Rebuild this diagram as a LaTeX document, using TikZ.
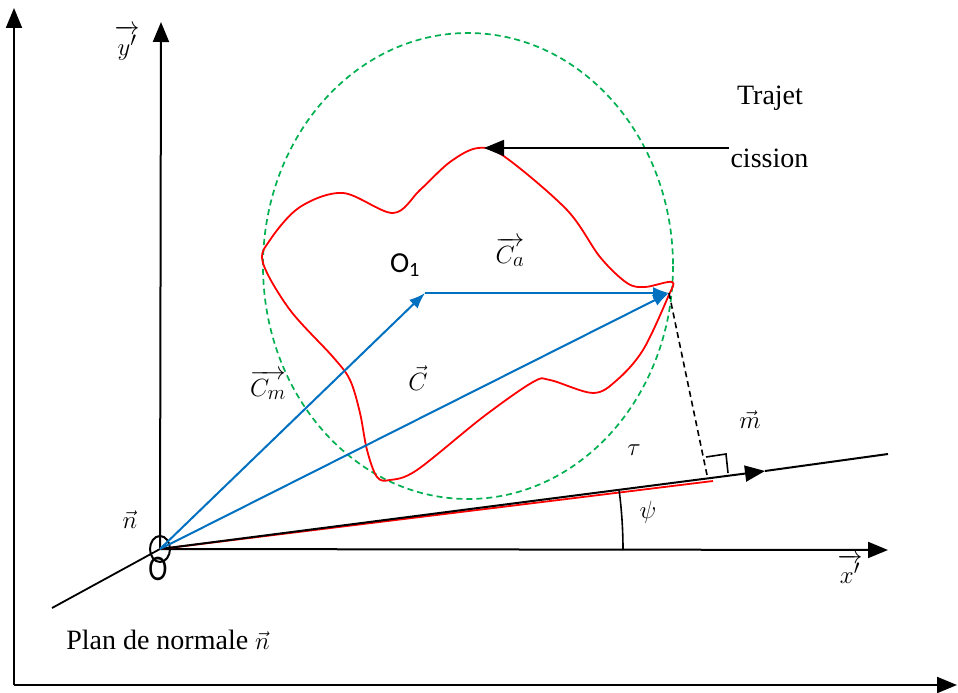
\documentclass[tikz,border=0pt]{standalone}
\usepackage{amsmath}
\usepackage{fontspec}
\setmainfont{Liberation Serif}
\setsansfont{Carlito}
\usetikzlibrary{arrows.meta}
\definecolor{vecblue}{RGB}{0,112,192}
\definecolor{envgreen}{RGB}{0,176,80}

\begin{document}
\begin{tikzpicture}[x=1pt,y=-1pt,font=\fontsize{28}{34}\selectfont,axis/.style={-{Triangle[length=20pt,width=16pt]},draw=black,line width=2pt},vecarrow/.style={-{Latex[length=16pt,width=12pt]},draw=vecblue,line width=2pt},cut/.style={draw=red,line width=1.8pt},envelope/.style={draw=envgreen,dashed,dash pattern=on 6pt off 4pt,line width=1.7pt},mathlabel/.style={font=\fontsize{31}{36}\selectfont}]
\useasboundingbox (0,0) rectangle (958,693);
\coordinate (corner) at (14,685);
\coordinate (O) at (160,549);
\coordinate (O1) at (425,293);
\coordinate (P) at (669,293);
\coordinate (foot) at (707,475);
\coordinate (mtip) at (765,471);
\coordinate (mend) at (888,454);
\coordinate (redend) at (713,481);
\coordinate (top) at (484,148);
\coordinate (trajstart) at (729,148);
\draw[axis] (corner)--(14,8);
\draw[axis] (corner)--(957,685);
\draw[axis] (O)--(161,22);
\draw[axis] (O)--(888,550);
\draw[line width=1.8pt] (52,608)--(O);
\draw[line width=2pt] (O) ellipse[x radius=10,y radius=13];
\draw[envelope] (468,266) ellipse[x radius=205,y radius=233];
\draw[cut] plot[smooth cycle,tension=0.55] coordinates {(478,148) (505,157) (567,210) (600,257) (627,283) (645,287) (672,282) (668,297) (643,350) (617,380) (593,393) (550,380) (533,382) (483,417) (417,470) (390,480) (377,477) (367,450) (360,413) (350,380) (333,357) (290,310) (263,263) (270,240) (300,207) (343,193) (393,213) (420,190) (450,162)};
\draw[cut] (O)--(redend);
\draw[axis] (O)--(mtip);
\draw[line width=2pt] (mtip)--(mend);
\draw[vecarrow] (O)--(O1);
\draw[vecarrow] (O1)--(P);
\draw[vecarrow] (O)--(P);
\draw[dashed,dash pattern=on 6pt off 4pt,line width=1.6pt] (P)--(foot);
\draw[line width=1.6pt] (706,457)--(726,454)--(728,473);
\draw[line width=1.6pt] (623,550) arc[start angle=0,end angle=-7.4,radius=463];
\draw[-{Triangle[length=20pt,width=16pt]},line width=1.8pt] (trajstart)--(top);
\node[mathlabel] (ylabel) at (127,43) {$\overrightarrow{\vphantom{I}y'}$};
\node[mathlabel] (xlabel) at (850,569) {$\overrightarrow{\vphantom{I}x'}$};
\node[mathlabel] (nlabel) at (130,520) {$\vec{n}$};
\node[mathlabel] (mlabel) at (750,420) {$\vec{m}$};
\node[mathlabel] (tau) at (634,450) {$\tau$};
\node[mathlabel] (psi) at (648,512) {$\psi$};
\node[mathlabel] (Cm) at (268,385) {$\overrightarrow{C_m}$};
\node[mathlabel] (C) at (418,378) {$\vec{C}$};
\node[mathlabel] (Ca) at (510,252) {$\overrightarrow{C_a}$};
\node[font=\fontsize{29}{34}\sffamily] (O1label) at (405,265) {O\textsubscript{1}};
\node[font=\fontsize{36}{40}\sffamily,xscale=0.8] (Olabel) at (158,569) {O};
\node (trajet) at (770,98) {Trajet};
\node[anchor=west] (cission) at (727,158) {cission};
\node (plan) at (168,640) {Plan de normale $\vec{n}$};
\end{tikzpicture}
\end{document}
